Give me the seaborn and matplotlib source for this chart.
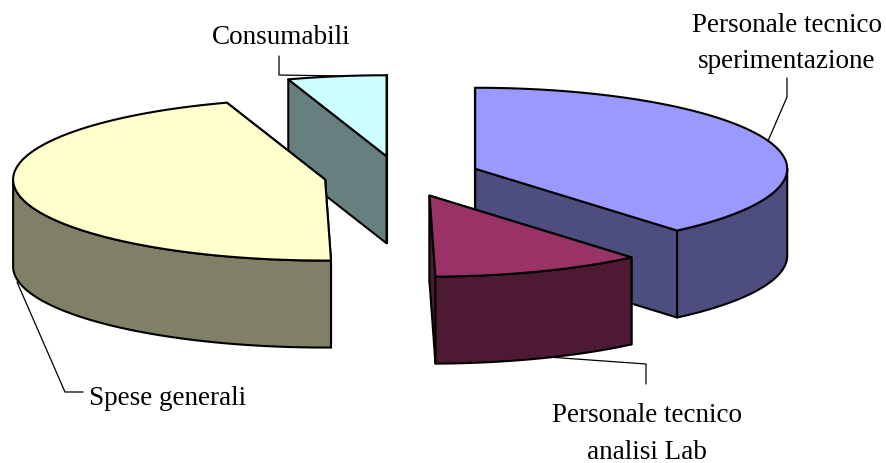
import numpy as np
import matplotlib
matplotlib.use("Agg")
import matplotlib.pyplot as plt
import seaborn as sns

# Budget shares, clockwise from twelve o'clock
categories = ["Personale tecnico sperimentazione", "Personale tecnico analisi Lab",
              "Spese generali", "Consumabili"]
shares = [38.8, 10.9, 45.2, 5.1]
top_colors = ["#9999FF", "#993366", "#FFFFCC", "#CCFFFF"]
side_colors = ["#4D4D80", "#4D1933", "#808066", "#668080"]
label_lines = [["Personale tecnico", "sperimentazione"],
               ["Personale tecnico", "analisi Lab"],
               ["Spese generali"],
               ["Consumabili"]]

# Pie geometry in figure pixels
CENTER = (402.0, 177.0)
RX, RY = 312.0, 81.0
DEPTH = 87.0
EXPLODE_X, EXPLODE_Y = 78.0, 21.0
SLICE_SHIFT = {3: (-3.0, 1.0)}
DRAW_ORDER = [3, 2, 0, 1]

sns.set_theme(style="white")
fig = plt.figure(figsize=(8.87, 4.64), dpi=100, facecolor="white")
ax = fig.add_axes([0, 0, 1, 1])
ax.set_xlim(0, 887)
ax.set_ylim(464, 0)
ax.axis("off")
sns.despine(ax=ax, left=True, bottom=True)

edges = np.concatenate([[0.0], np.cumsum(shares)]) / np.sum(shares) * 2 * np.pi


def rim(cx, cy, a, b, dz=0.0):
    t = np.linspace(a, b, max(int(np.degrees(b - a)), 2) + 1)
    return cx + RX * np.sin(t), cy - RY * np.cos(t) + dz


def face(xs, ys, color, z):
    ax.fill(xs, ys, facecolor=color, edgecolor="black", linewidth=1.5,
            joinstyle="round", zorder=z)


def draw_slice(i, z):
    a, b = edges[i], edges[i + 1]
    mid = (a + b) / 2
    sx, sy = SLICE_SHIFT.get(i, (0.0, 0.0))
    cx = CENTER[0] + EXPLODE_X * np.sin(mid) + sx
    cy = CENTER[1] - EXPLODE_Y * np.cos(mid) + sy
    side = side_colors[i]

    # Flat cut walls, seen only when they face the viewer
    for ang in (a, b):
        ex, ey = cx + RX * np.sin(ang), cy - RY * np.cos(ang)
        face([cx, ex, ex, cx], [cy, ey, ey + DEPTH, cy + DEPTH], side, z)

    # Curved outer wall: the part of the rim on the near half of the ellipse
    lo, hi = max(a, np.pi / 2), min(b, 3 * np.pi / 2)
    if hi > lo:
        x0, y0 = rim(cx, cy, lo, hi)
        x1, y1 = rim(cx, cy, lo, hi, DEPTH)
        face(np.r_[x0, x1[::-1]], np.r_[y0, y1[::-1]], side, z + 0.1)

    # Top surface
    xt, yt = rim(cx, cy, a, b)
    face(np.r_[cx, xt], np.r_[cy, yt], top_colors[i], z + 0.2)


for order, idx in enumerate(DRAW_ORDER):
    draw_slice(idx, 2 + order)

# Leader lines
leaders = [
    ([787, 787, 768], [79, 98, 142]),
    ([548, 646, 646], [358, 365, 385]),
    ([17, 65, 83], [283, 393, 393]),
    ([279, 279, 340], [57, 76, 77]),
]
for lx, ly in leaders:
    ax.plot(lx, ly, color="black", linewidth=0.9, zorder=10,
            solid_joinstyle="miter")

# Labels
label_anchor = [(787, [25, 61]), (647, [416, 453]), (168, [399]), (281, [37])]
for lines, (x, ys) in zip(label_lines, label_anchor):
    for line, y in zip(lines, ys):
        ax.text(x, y, line, ha="center", va="center", color="black",
                family="Liberation Serif", fontsize=19.5, zorder=11)

fig.savefig("out.png", dpi=100, facecolor="white")
